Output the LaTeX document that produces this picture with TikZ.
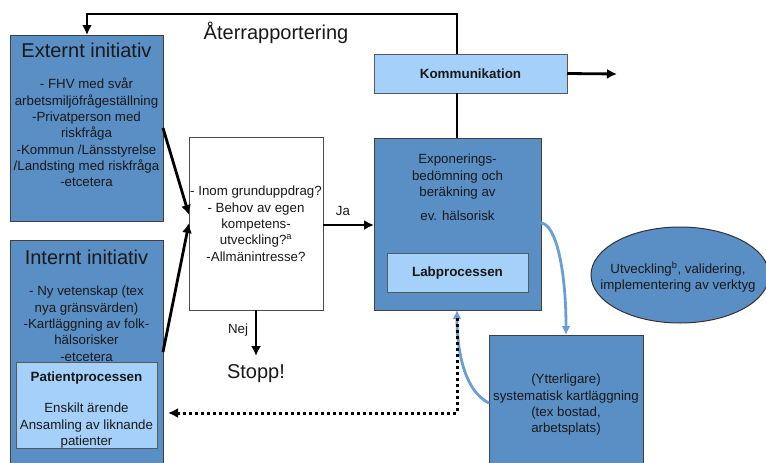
\documentclass[tikz,border=0pt]{standalone}
\usepackage{fontspec}
\setmainfont{Liberation Sans}
\usetikzlibrary{arrows.meta,shapes.geometric}
\definecolor{darkblue}{HTML}{5A8FC6}
\definecolor{lightblue}{HTML}{A4D0FA}
\definecolor{curveblue}{HTML}{6A9FD6}
\begin{document}
\begin{tikzpicture}[x=1pt,y=-1pt,
  darkbox/.style={draw=black!75, fill=darkblue, line width=1pt, inner sep=0pt, outer sep=0pt, anchor=north west},
  lightbox/.style={draw=black!65, fill=lightblue, line width=1pt, inner sep=0pt, outer sep=0pt, anchor=north west},
  whitebox/.style={draw=black!70, fill=white, line width=1pt, inner sep=0pt, outer sep=0pt, anchor=north west},
  txt/.style={font=\fontsize{13.3}{16.3}\selectfont, text=black!90, inner sep=0pt, align=center},
  big/.style={font=\fontsize{20}{22}\selectfont, text=black!90, inner sep=0pt},
  bold/.style={font=\fontsize{13.4}{16}\selectfont\bfseries, text=black!90, inner sep=0pt},
  arr/.style={line width=2.8pt, -{Latex[length=10pt,width=10pt]}},
  plain/.style={line width=2.8pt},
  barr/.style={line width=2.8pt, draw=curveblue, -{Latex[length=9pt,width=9pt]}},
  dotarr/.style={line width=3pt, dash pattern=on 3pt off 3pt, -{Latex[length=10pt,width=10pt]}}]
\useasboundingbox (0,0) rectangle (766,463);
\fill[white] (0,0) rectangle (766,463);

% boxes
\node[darkbox, minimum width=153pt, minimum height=186pt] (ext) at (10,35) {};
\node[darkbox, minimum width=153pt, minimum height=235pt] (int) at (10,240) {};
\node[lightbox, minimum width=141pt, minimum height=86pt] (pat) at (16,362) {};
\node[whitebox, minimum width=134pt, minimum height=173pt] (mid) at (189,137) {};
\node[lightbox, minimum width=193pt, minimum height=39pt] (kom) at (374,54) {};
\node[darkbox, minimum width=167pt, minimum height=172pt] (exp) at (374,138) {};
\node[lightbox, minimum width=141pt, minimum height=39pt] (lab) at (387,253) {};
\node[darkbox, minimum width=154pt, minimum height=140pt] (ytt) at (489,335) {};
\node[ellipse, draw=black!80, fill=darkblue, line width=1pt, minimum width=178pt, minimum height=96pt, inner sep=0pt] (utv) at (680,275) {};

% texts
\node[big] (extT) at (86.5,50) {Externt initiativ};
\node[txt, anchor=north] (extB) at (86.5,78) {- FHV med svår\\arbetsmiljöfrågeställning\\-Privatperson med\\riskfråga\\-Kommun /Länsstyrelse\\/Landsting med riskfråga\\-etcetera};
\node[big] (intT) at (86.5,257) {Internt initiativ};
\node[txt, anchor=north] (intB) at (86.5,286) {- Ny vetenskap (tex\\nya gränsvärden)\\-Kartläggning av folk-\\hälsorisker\\-etcetera};
\node[bold] (patT) at (86.5,378) {Patientprocessen};
\node[txt, anchor=north] (patB) at (86.5,403) {Enskilt ärende\\Ansamling av liknande\\patienter};
\node[txt, anchor=north] (midB) at (256,186) {- Inom grunduppdrag?\\- Behov av egen\\kompetens-\\utveckling?\textsuperscript{a}\\-Allmänintresse?};
\node[bold] (komT) at (470.5,74) {Kommunikation};
\node[txt, anchor=north] (expB) at (457.5,154) {Exponerings-\\bedömning och\\beräkning av};
\node[txt] (expB2) at (457.5,216) {ev. hälsorisk};
\node[bold] (labT) at (457.5,273) {Labprocessen};
\node[txt, anchor=north] (yttB) at (566,374) {(Ytterligare)\\systematisk kartläggning\\(tex bostad,\\arbetsplats)};
\node[txt] (utvB) at (678,277) {Utveckling\textsuperscript{b}, validering,\\implementering av verktyg};
\node[big] (aterT) at (276,33) {Återrapportering};
\node[txt] (jaT) at (343,211) {Ja};
\node[txt] (nejT) at (238,330) {Nej};
\node[big] (stopT) at (256,374) {Stopp!};

% coordinates
\coordinate (extOut) at (163,128);
\coordinate (intOut) at (163,352);
\coordinate (midIn1) at (189,215);
\coordinate (midIn2) at (189,223);
\coordinate (stopEnd) at (256,356);
\coordinate (komOut) at (617,74);
\coordinate (topR) at (457,14);
\coordinate (topL) at (87,14);
\coordinate (dotStart) at (457,318);
\coordinate (dotCorner) at (457,413);
\coordinate (dotEnd) at (168,413);

% connectors
\draw[arr] (extOut) -- (midIn1);
\draw[arr] (intOut) -- (midIn2);
\draw[arr] (mid.east |- 0,225) -- (exp.west |- 0,225);
\draw[arr] (mid.south -| 256,0) -- (stopEnd);
\draw[arr] (kom.east) -- (komOut);
\draw[plain] (kom.south -| 457,0) -- (exp.north -| 457,0);
\draw[arr] (kom.north -| 457,0) -- (topR) -- (topL) -- (ext.north -| 87,0);
\draw[barr] (exp.east |- 0,223) .. controls (556,224) and (566,270) .. (ytt.north -| 566,0);
\draw[barr] (ytt.west |- 0,403) .. controls (466,392) and (457,355) .. (exp.south -| 457,0);
\draw[dotarr] (dotStart) -- (dotCorner) -- (dotEnd);
\end{tikzpicture}
\end{document}
